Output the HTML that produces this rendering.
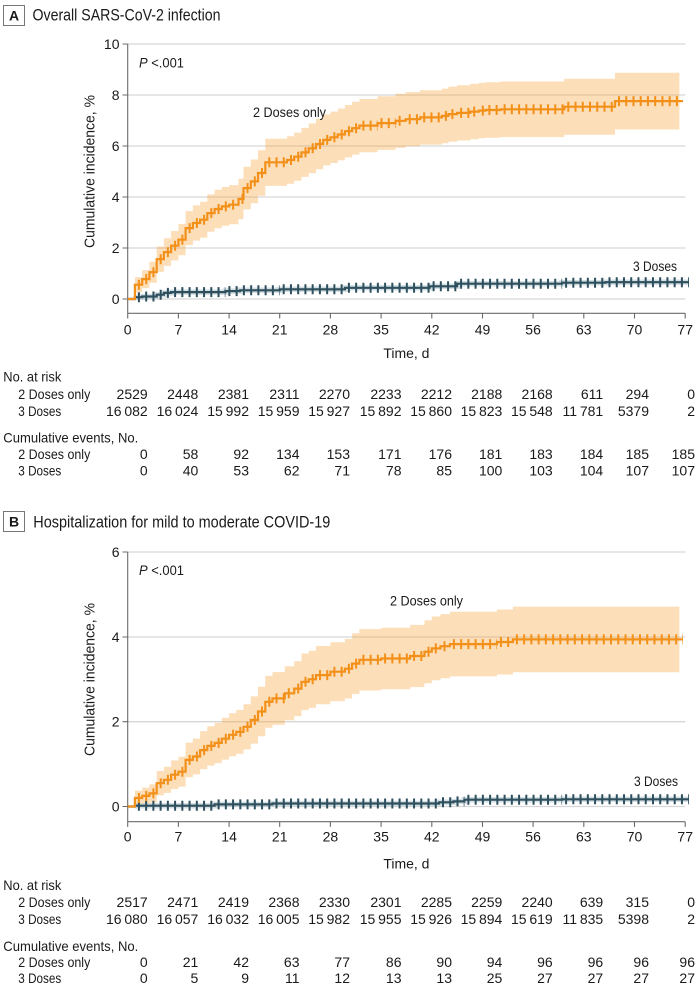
<!DOCTYPE html>
<html><head><meta charset="utf-8"><title>Cumulative incidence</title>
<style>
html,body{margin:0;padding:0;background:#fff;}
svg{display:block;font-family:"Liberation Sans",sans-serif;}
text{fill:#1a1a1a;}
</style></head>
<body>
<svg width="700" height="986" viewBox="0 0 700 986" xmlns="http://www.w3.org/2000/svg">
<rect x="0" y="0" width="700" height="986" fill="#fff"/>

<!-- ================= PANEL A ================= -->
<rect x="3.5" y="5.5" width="21" height="20" fill="#fff" stroke="#777" stroke-width="1"/>
<text x="14" y="20.5" font-size="14" font-weight="bold" text-anchor="middle">A</text>
<text x="32.5" y="20.7" font-size="17" textLength="188" lengthAdjust="spacingAndGlyphs">Overall SARS-CoV-2 infection</text>

<!-- gridlines -->
<g stroke="#d6d6d6" stroke-width="1.3">
<line x1="127.7" y1="44" x2="685.2" y2="44"/>
<line x1="127.7" y1="95" x2="685.2" y2="95"/>
<line x1="127.7" y1="146" x2="685.2" y2="146"/>
<line x1="127.7" y1="197" x2="685.2" y2="197"/>
<line x1="127.7" y1="248" x2="685.2" y2="248"/>
<line x1="127.7" y1="299" x2="685.2" y2="299"/>
</g>
<!-- axes -->
<g stroke="#6b6b6b" stroke-width="1.1" fill="none">
<line x1="127.7" y1="44" x2="127.7" y2="313.3"/>
<line x1="127.7" y1="313.3" x2="685.2" y2="313.3"/>
<path d="M122.5,44H127.7M122.5,95H127.7M122.5,146H127.7M122.5,197H127.7M122.5,248H127.7M122.5,299H127.7"/>
<path d="M127.7,313.3V318.5M178.4,313.3V318.5M229.1,313.3V318.5M279.7,313.3V318.5M330.4,313.3V318.5M381.1,313.3V318.5M431.8,313.3V318.5M482.5,313.3V318.5M533.1,313.3V318.5M583.8,313.3V318.5M634.5,313.3V318.5M685.2,313.3V318.5"/>
</g>
<g font-size="14" text-anchor="end">
<text x="119.5" y="49">10</text>
<text x="119.5" y="100">8</text>
<text x="119.5" y="151">6</text>
<text x="119.5" y="202">4</text>
<text x="119.5" y="253">2</text>
<text x="119.5" y="304">0</text>
</g>
<g font-size="14" text-anchor="middle">
<text x="127.7" y="334.5">0</text>
<text x="178.4" y="334.5">7</text>
<text x="229.1" y="334.5">14</text>
<text x="279.7" y="334.5">21</text>
<text x="330.4" y="334.5">28</text>
<text x="381.1" y="334.5">35</text>
<text x="431.8" y="334.5">42</text>
<text x="482.5" y="334.5">49</text>
<text x="533.1" y="334.5">56</text>
<text x="583.8" y="334.5">63</text>
<text x="634.5" y="334.5">70</text>
<text x="685.2" y="334.5">77</text>
<text x="406.4" y="357.8">Time, d</text>
</g>
<text font-size="15" text-anchor="middle" textLength="153" lengthAdjust="spacingAndGlyphs" transform="translate(94.5,171.5) rotate(-90)">Cumulative incidence, %</text>

<!-- orange band A -->
<path fill="#f8a848" fill-opacity="0.38" d="M134.9,277.1 H142.2 V270.1 H149.4 V261.7 H156.7 V246.5 H163.9 V238.3 H171.1 V231.0 H178.4 V224.0 H185.6 V211.1 H192.9 V205.4 H200.1 V201.7 H207.3 V194.4 H214.6 V189.8 H221.8 V187.0 H229.1 V185.1 H238.5 V178.8 H243.5 V166.8 H250.8 V159.5 H258.0 V150.3 H265.3 V138.7 H287.0 V136.2 H294.2 V132.6 H301.5 V127.9 H308.7 V123.5 H316.0 V118.8 H323.2 V114.4 H330.4 V111.6 H337.7 V108.6 H344.9 V105.0 H352.1 V101.8 H359.4 V99.0 H377.5 V96.3 H395.6 V93.8 H405.7 V92.1 H420.2 V90.2 H441.9 V88.6 H448.4 V86.6 H457.1 V85.3 H470.2 V83.9 H478.8 V82.9 H485.4 V82.2 H500.6 V81.5 H564.3 V78.7 H615.0 V72.7 H679.4 V129.5 H615.0 V134.7 H564.3 V137.1 H500.6 V137.8 H485.4 V138.3 H478.8 V139.3 H470.2 V140.5 H457.1 V141.6 H448.4 V143.2 H441.9 V144.6 H420.2 V146.3 H405.7 V147.8 H395.6 V149.9 H377.5 V152.2 H359.4 V154.6 H352.1 V157.4 H344.9 V160.4 H337.7 V163.0 H330.4 V165.4 H323.2 V169.2 H316.0 V173.1 H308.7 V176.9 H301.5 V180.8 H294.2 V183.8 H287.0 V185.9 H265.3 V195.7 H258.0 V203.3 H250.8 V209.4 H243.5 V219.2 H238.5 V224.3 H229.1 V225.8 H221.8 V228.2 H214.6 V231.8 H207.3 V237.7 H200.1 V240.6 H192.9 V245.1 H185.6 V255.2 H178.4 V260.4 H171.1 V265.9 H163.9 V271.9 H156.7 V282.7 H149.4 V288.1 H142.2 V292.3 H134.9 Z"/>

<!-- teal A -->
<path fill="none" stroke="#b9ccd4" stroke-opacity="0.6" stroke-width="5.5" d="M134.9,297.2 H142.2 V296.5 H156.7 V294.7 H163.9 V292.9 H171.1 V292.1 H225.4 V291.1 H239.9 V290.3 H279.7 V289.3 H344.9 V287.8 H429.6 V286.3 H457.1 V283.7 H562.1 V282.7 H605.5 V282.2 H689"/>
<path fill="none" stroke="#2e4f5e" stroke-width="2.2" d="M127.7,299 H134.9 V297.2 H142.2 V296.5 H156.7 V294.7 H163.9 V292.9 H171.1 V292.1 H225.4 V291.1 H239.9 V290.3 H279.7 V289.3 H344.9 V287.8 H429.6 V286.3 H457.1 V283.7 H562.1 V282.7 H605.5 V282.2 H689"/>
<path fill="none" stroke="#2e4f5e" stroke-width="10" stroke-dasharray="2 5.24" stroke-dashoffset="4.24" d="M134.9,297.2H142.2 M142.2,296.5H156.7 M156.7,294.7H163.9 M163.9,292.9H171.1 M171.1,292.1H225.4 M225.4,291.1H239.9 M239.9,290.3H279.7 M279.7,289.3H344.9 M344.9,287.8H429.6 M429.6,286.3H457.1 M457.1,283.7H562.1 M562.1,282.7H605.5 M605.5,282.2H689"/>

<!-- orange line A -->
<path fill="none" stroke="#f39019" stroke-width="2.2" d="M127.7,299 H134.9 V284.7 H142.2 V279.1 H149.4 V272.2 H156.7 V259.2 H163.9 V252.1 H171.1 V245.7 H178.4 V239.6 H185.6 V228.1 H192.9 V223.0 H200.1 V219.7 H207.3 V213.1 H214.6 V209.0 H221.8 V206.4 H229.1 V204.7 H238.5 V199.0 H243.5 V188.1 H250.8 V181.4 H258.0 V173.0 H265.3 V162.3 H287.0 V160.0 H294.2 V156.7 H301.5 V152.4 H308.7 V148.3 H316.0 V144.0 H323.2 V139.9 H330.4 V137.3 H337.7 V134.5 H344.9 V131.2 H352.1 V128.2 H359.4 V125.6 H377.5 V123.1 H395.6 V120.8 H405.7 V119.2 H420.2 V117.4 H441.9 V115.9 H448.4 V114.1 H457.1 V112.9 H470.2 V111.6 H478.8 V110.6 H485.4 V110.0 H500.6 V109.3 H564.3 V106.7 H615.0 V101.1 H683.0"/>
<path fill="none" stroke="#f39019" stroke-width="10" stroke-dasharray="2 5.24" stroke-dashoffset="4.24" d="M134.9,284.7H142.2 M142.2,279.1H149.4 M149.4,272.2H156.7 M156.7,259.2H163.9 M163.9,252.1H171.1 M171.1,245.7H178.4 M178.4,239.6H185.6 M185.6,228.1H192.9 M192.9,223.0H200.1 M200.1,219.7H207.3 M207.3,213.1H214.6 M214.6,209.0H221.8 M221.8,206.4H229.1 M229.1,204.7H238.5 M238.5,199.0H243.5 M243.5,188.1H250.8 M250.8,181.4H258.0 M258.0,173.0H265.3 M265.3,162.3H287.0 M287.0,160.0H294.2 M294.2,156.7H301.5 M301.5,152.4H308.7 M308.7,148.3H316.0 M316.0,144.0H323.2 M323.2,139.9H330.4 M330.4,137.3H337.7 M337.7,134.5H344.9 M344.9,131.2H352.1 M352.1,128.2H359.4 M359.4,125.6H377.5 M377.5,123.1H395.6 M395.6,120.8H405.7 M405.7,119.2H420.2 M420.2,117.4H441.9 M441.9,115.9H448.4 M448.4,114.1H457.1 M457.1,112.9H470.2 M470.2,111.6H478.8 M478.8,110.6H485.4 M485.4,110.0H500.6 M500.6,109.3H564.3 M564.3,106.7H615.0 M615.0,101.1H683.0"/>

<text x="139" y="67.5" font-size="14" textLength="45" lengthAdjust="spacingAndGlyphs"><tspan font-style="italic">P</tspan> &lt;.001</text>
<text x="253" y="117" font-size="14" textLength="73" lengthAdjust="spacingAndGlyphs">2 Doses only</text>
<text x="633" y="271" font-size="14" textLength="44" lengthAdjust="spacingAndGlyphs">3 Doses</text>

<!-- table A -->
<g font-size="14">
<text x="3.3" y="381.5" textLength="58" lengthAdjust="spacingAndGlyphs">No. at risk</text>
<text x="18.3" y="399" textLength="72" lengthAdjust="spacingAndGlyphs">2 Doses only</text>
<text x="18.3" y="416" textLength="43" lengthAdjust="spacingAndGlyphs">3 Doses</text>
<text x="3.3" y="442.5" textLength="135" lengthAdjust="spacingAndGlyphs">Cumulative events, No.</text>
<text x="18.3" y="459" textLength="72" lengthAdjust="spacingAndGlyphs">2 Doses only</text>
<text x="18.3" y="475.5" textLength="43" lengthAdjust="spacingAndGlyphs">3 Doses</text>
</g>
<g font-size="14" text-anchor="end">
<text x="147.7" y="399">2529</text><text x="198.3" y="399">2448</text><text x="249" y="399">2381</text><text x="299.5" y="399">2311</text><text x="350" y="399">2270</text><text x="401.5" y="399">2233</text><text x="452" y="399">2212</text><text x="502.3" y="399">2188</text><text x="552.7" y="399">2168</text><text x="603.2" y="399">611</text><text x="649" y="399">294</text><text x="695" y="399">0</text>
<text x="147.7" y="416">16&#8201;082</text><text x="198.3" y="416">16&#8201;024</text><text x="249" y="416">15&#8201;992</text><text x="299.5" y="416">15&#8201;959</text><text x="350" y="416">15&#8201;927</text><text x="401.5" y="416">15&#8201;892</text><text x="452" y="416">15&#8201;860</text><text x="502.3" y="416">15&#8201;823</text><text x="552.7" y="416">15&#8201;548</text><text x="603.2" y="416">11&#8201;781</text><text x="649" y="416">5379</text><text x="695" y="416">2</text>
<text x="147.7" y="459">0</text><text x="198.3" y="459">58</text><text x="249" y="459">92</text><text x="299.5" y="459">134</text><text x="350" y="459">153</text><text x="401.5" y="459">171</text><text x="452" y="459">176</text><text x="502.3" y="459">181</text><text x="552.7" y="459">183</text><text x="603.2" y="459">184</text><text x="649" y="459">185</text><text x="695" y="459">185</text>
<text x="147.7" y="475.5">0</text><text x="198.3" y="475.5">40</text><text x="249" y="475.5">53</text><text x="299.5" y="475.5">62</text><text x="350" y="475.5">71</text><text x="401.5" y="475.5">78</text><text x="452" y="475.5">85</text><text x="502.3" y="475.5">100</text><text x="552.7" y="475.5">103</text><text x="603.2" y="475.5">104</text><text x="649" y="475.5">107</text><text x="695" y="475.5">107</text>
</g>

<!-- ================= PANEL B ================= -->
<rect x="3.5" y="511.5" width="21" height="20" fill="#fff" stroke="#777" stroke-width="1"/>
<text x="14" y="526.5" font-size="14" font-weight="bold" text-anchor="middle">B</text>
<text x="33.3" y="527.3" font-size="17" textLength="297" lengthAdjust="spacingAndGlyphs">Hospitalization for mild to moderate COVID-19</text>

<g stroke="#d6d6d6" stroke-width="1.3">
<line x1="127.7" y1="552" x2="685.2" y2="552"/>
<line x1="127.7" y1="637" x2="685.2" y2="637"/>
<line x1="127.7" y1="721.7" x2="685.2" y2="721.7"/>
<line x1="127.7" y1="806.5" x2="685.2" y2="806.5"/>
</g>
<g stroke="#6b6b6b" stroke-width="1.1" fill="none">
<line x1="127.7" y1="552" x2="127.7" y2="821.7"/>
<line x1="127.7" y1="821.7" x2="685.2" y2="821.7"/>
<path d="M122.5,552H127.7M122.5,637H127.7M122.5,721.7H127.7M122.5,806.5H127.7"/>
<path d="M127.7,821.7V826.9M178.4,821.7V826.9M229.1,821.7V826.9M279.7,821.7V826.9M330.4,821.7V826.9M381.1,821.7V826.9M431.8,821.7V826.9M482.5,821.7V826.9M533.1,821.7V826.9M583.8,821.7V826.9M634.5,821.7V826.9M685.2,821.7V826.9"/>
</g>
<g font-size="14" text-anchor="end">
<text x="119.5" y="557">6</text>
<text x="119.5" y="642">4</text>
<text x="119.5" y="726.7">2</text>
<text x="119.5" y="811.5">0</text>
</g>
<g font-size="14" text-anchor="middle">
<text x="127.7" y="841.5">0</text>
<text x="178.4" y="841.5">7</text>
<text x="229.1" y="841.5">14</text>
<text x="279.7" y="841.5">21</text>
<text x="330.4" y="841.5">28</text>
<text x="381.1" y="841.5">35</text>
<text x="431.8" y="841.5">42</text>
<text x="482.5" y="841.5">49</text>
<text x="533.1" y="841.5">56</text>
<text x="583.8" y="841.5">63</text>
<text x="634.5" y="841.5">70</text>
<text x="685.2" y="841.5">77</text>
<text x="406.4" y="868.3">Time, d</text>
</g>
<text font-size="15" text-anchor="middle" textLength="153" lengthAdjust="spacingAndGlyphs" transform="translate(94.5,679.5) rotate(-90)">Cumulative incidence, %</text>

<!-- orange band B -->
<path fill="#f8a848" fill-opacity="0.38" d="M134.9,790.6 H142.2 V787.6 H149.4 V784.2 H156.7 V771.0 H163.9 V766.7 H171.1 V760.4 H178.4 V756.8 H185.6 V742.6 H192.9 V738.6 H200.1 V731.1 H207.3 V726.2 H214.6 V722.7 H221.8 V717.8 H229.1 V713.3 H236.3 V710.0 H243.5 V704.2 H250.8 V696.4 H258.0 V686.8 H265.3 V675.9 H272.5 V672.1 H284.8 V666.3 H294.2 V661.1 H301.5 V653.5 H308.7 V650.7 H316.0 V646.0 H330.4 V642.3 H344.9 V639.0 H352.1 V633.3 H359.4 V629.1 H381.1 V627.7 H410.1 V624.9 H424.5 V620.2 H431.8 V616.5 H440.5 V614.1 H449.9 V611.8 H496.9 V609.5 H512.9 V606.6 H679.4 V672.2 H512.9 V674.5 H496.9 V676.4 H449.9 V678.3 H440.5 V680.3 H431.8 V683.2 H424.5 V687.1 H410.1 V689.3 H381.1 V690.5 H359.4 V693.9 H352.1 V698.4 H344.9 V701.1 H330.4 V704.2 H316.0 V707.9 H308.7 V710.1 H301.5 V716.1 H294.2 V720.3 H284.8 V724.7 H272.5 V727.7 H265.3 V736.2 H258.0 V743.6 H250.8 V749.4 H243.5 V753.8 H236.3 V756.3 H229.1 V759.6 H221.8 V763.1 H214.6 V765.6 H207.3 V769.1 H200.1 V774.4 H192.9 V777.2 H185.6 V786.6 H178.4 V789.0 H171.1 V792.9 H163.9 V795.4 H156.7 V802.6 H149.4 V804.2 H142.2 V805.4 H134.9 Z"/>

<!-- teal B -->
<path fill="none" stroke="#b9ccd4" stroke-opacity="0.6" stroke-width="5.5" d="M134.9,805.7 H214.6 V804.4 H272.5 V803.5 H439.0 V802.3 H453.5 V801.4 H464.4 V799.7 H562.1 V799.3 H689"/>
<path fill="none" stroke="#2e4f5e" stroke-width="2.2" d="M127.7,806.5 H134.9 V805.7 H214.6 V804.4 H272.5 V803.5 H439.0 V802.3 H453.5 V801.4 H464.4 V799.7 H562.1 V799.3 H689"/>
<path fill="none" stroke="#2e4f5e" stroke-width="10" stroke-dasharray="2 5.24" stroke-dashoffset="4.24" d="M134.9,805.7H214.6 M214.6,804.4H272.5 M272.5,803.5H439.0 M439.0,802.3H453.5 M453.5,801.4H464.4 M464.4,799.7H562.1 M562.1,799.3H689"/>

<!-- orange line B -->
<path fill="none" stroke="#f39019" stroke-width="2.2" d="M127.7,806.5 H134.9 V798.0 H142.2 V795.9 H149.4 V793.4 H156.7 V783.2 H163.9 V779.8 H171.1 V774.7 H178.4 V771.7 H185.6 V759.9 H192.9 V756.5 H200.1 V750.1 H207.3 V745.9 H214.6 V742.9 H221.8 V738.7 H229.1 V734.8 H236.3 V731.9 H243.5 V726.8 H250.8 V720.0 H258.0 V711.5 H265.3 V701.8 H272.5 V698.4 H284.8 V693.3 H294.2 V688.6 H301.5 V681.8 H308.7 V679.3 H316.0 V675.1 H330.4 V671.7 H344.9 V668.7 H352.1 V663.6 H359.4 V659.8 H381.1 V658.5 H410.1 V656.0 H424.5 V651.7 H431.8 V648.4 H440.5 V646.2 H449.9 V644.1 H496.9 V642.0 H512.9 V639.4 H683.0"/>
<path fill="none" stroke="#f39019" stroke-width="10" stroke-dasharray="2 5.24" stroke-dashoffset="4.24" d="M134.9,798.0H142.2 M142.2,795.9H149.4 M149.4,793.4H156.7 M156.7,783.2H163.9 M163.9,779.8H171.1 M171.1,774.7H178.4 M178.4,771.7H185.6 M185.6,759.9H192.9 M192.9,756.5H200.1 M200.1,750.1H207.3 M207.3,745.9H214.6 M214.6,742.9H221.8 M221.8,738.7H229.1 M229.1,734.8H236.3 M236.3,731.9H243.5 M243.5,726.8H250.8 M250.8,720.0H258.0 M258.0,711.5H265.3 M265.3,701.8H272.5 M272.5,698.4H284.8 M284.8,693.3H294.2 M294.2,688.6H301.5 M301.5,681.8H308.7 M308.7,679.3H316.0 M316.0,675.1H330.4 M330.4,671.7H344.9 M344.9,668.7H352.1 M352.1,663.6H359.4 M359.4,659.8H381.1 M381.1,658.5H410.1 M410.1,656.0H424.5 M424.5,651.7H431.8 M431.8,648.4H440.5 M440.5,646.2H449.9 M449.9,644.1H496.9 M496.9,642.0H512.9 M512.9,639.4H683.0"/>

<text x="139" y="575" font-size="14" textLength="45" lengthAdjust="spacingAndGlyphs"><tspan font-style="italic">P</tspan> &lt;.001</text>
<text x="390" y="605.5" font-size="14" textLength="73" lengthAdjust="spacingAndGlyphs">2 Doses only</text>
<text x="634" y="786" font-size="14" textLength="44" lengthAdjust="spacingAndGlyphs">3 Doses</text>

<!-- table B -->
<g font-size="14">
<text x="3.3" y="890" textLength="58" lengthAdjust="spacingAndGlyphs">No. at risk</text>
<text x="18.3" y="907" textLength="72" lengthAdjust="spacingAndGlyphs">2 Doses only</text>
<text x="18.3" y="924" textLength="43" lengthAdjust="spacingAndGlyphs">3 Doses</text>
<text x="3.3" y="951" textLength="135" lengthAdjust="spacingAndGlyphs">Cumulative events, No.</text>
<text x="18.3" y="967" textLength="72" lengthAdjust="spacingAndGlyphs">2 Doses only</text>
<text x="18.3" y="983" textLength="43" lengthAdjust="spacingAndGlyphs">3 Doses</text>
</g>
<g font-size="14" text-anchor="end">
<text x="147.7" y="907">2517</text><text x="198.3" y="907">2471</text><text x="249" y="907">2419</text><text x="299.5" y="907">2368</text><text x="350" y="907">2330</text><text x="401.5" y="907">2301</text><text x="452" y="907">2285</text><text x="502.3" y="907">2259</text><text x="552.7" y="907">2240</text><text x="603.2" y="907">639</text><text x="649" y="907">315</text><text x="695" y="907">0</text>
<text x="147.7" y="924">16&#8201;080</text><text x="198.3" y="924">16&#8201;057</text><text x="249" y="924">16&#8201;032</text><text x="299.5" y="924">16&#8201;005</text><text x="350" y="924">15&#8201;982</text><text x="401.5" y="924">15&#8201;955</text><text x="452" y="924">15&#8201;926</text><text x="502.3" y="924">15&#8201;894</text><text x="552.7" y="924">15&#8201;619</text><text x="603.2" y="924">11&#8201;835</text><text x="649" y="924">5398</text><text x="695" y="924">2</text>
<text x="147.7" y="967">0</text><text x="198.3" y="967">21</text><text x="249" y="967">42</text><text x="299.5" y="967">63</text><text x="350" y="967">77</text><text x="401.5" y="967">86</text><text x="452" y="967">90</text><text x="502.3" y="967">94</text><text x="552.7" y="967">96</text><text x="603.2" y="967">96</text><text x="649" y="967">96</text><text x="695" y="967">96</text>
<text x="147.7" y="983">0</text><text x="198.3" y="983">5</text><text x="249" y="983">9</text><text x="299.5" y="983">11</text><text x="350" y="983">12</text><text x="401.5" y="983">13</text><text x="452" y="983">13</text><text x="502.3" y="983">25</text><text x="552.7" y="983">27</text><text x="603.2" y="983">27</text><text x="649" y="983">27</text><text x="695" y="983">27</text>
</g>
</svg>
</body></html>
